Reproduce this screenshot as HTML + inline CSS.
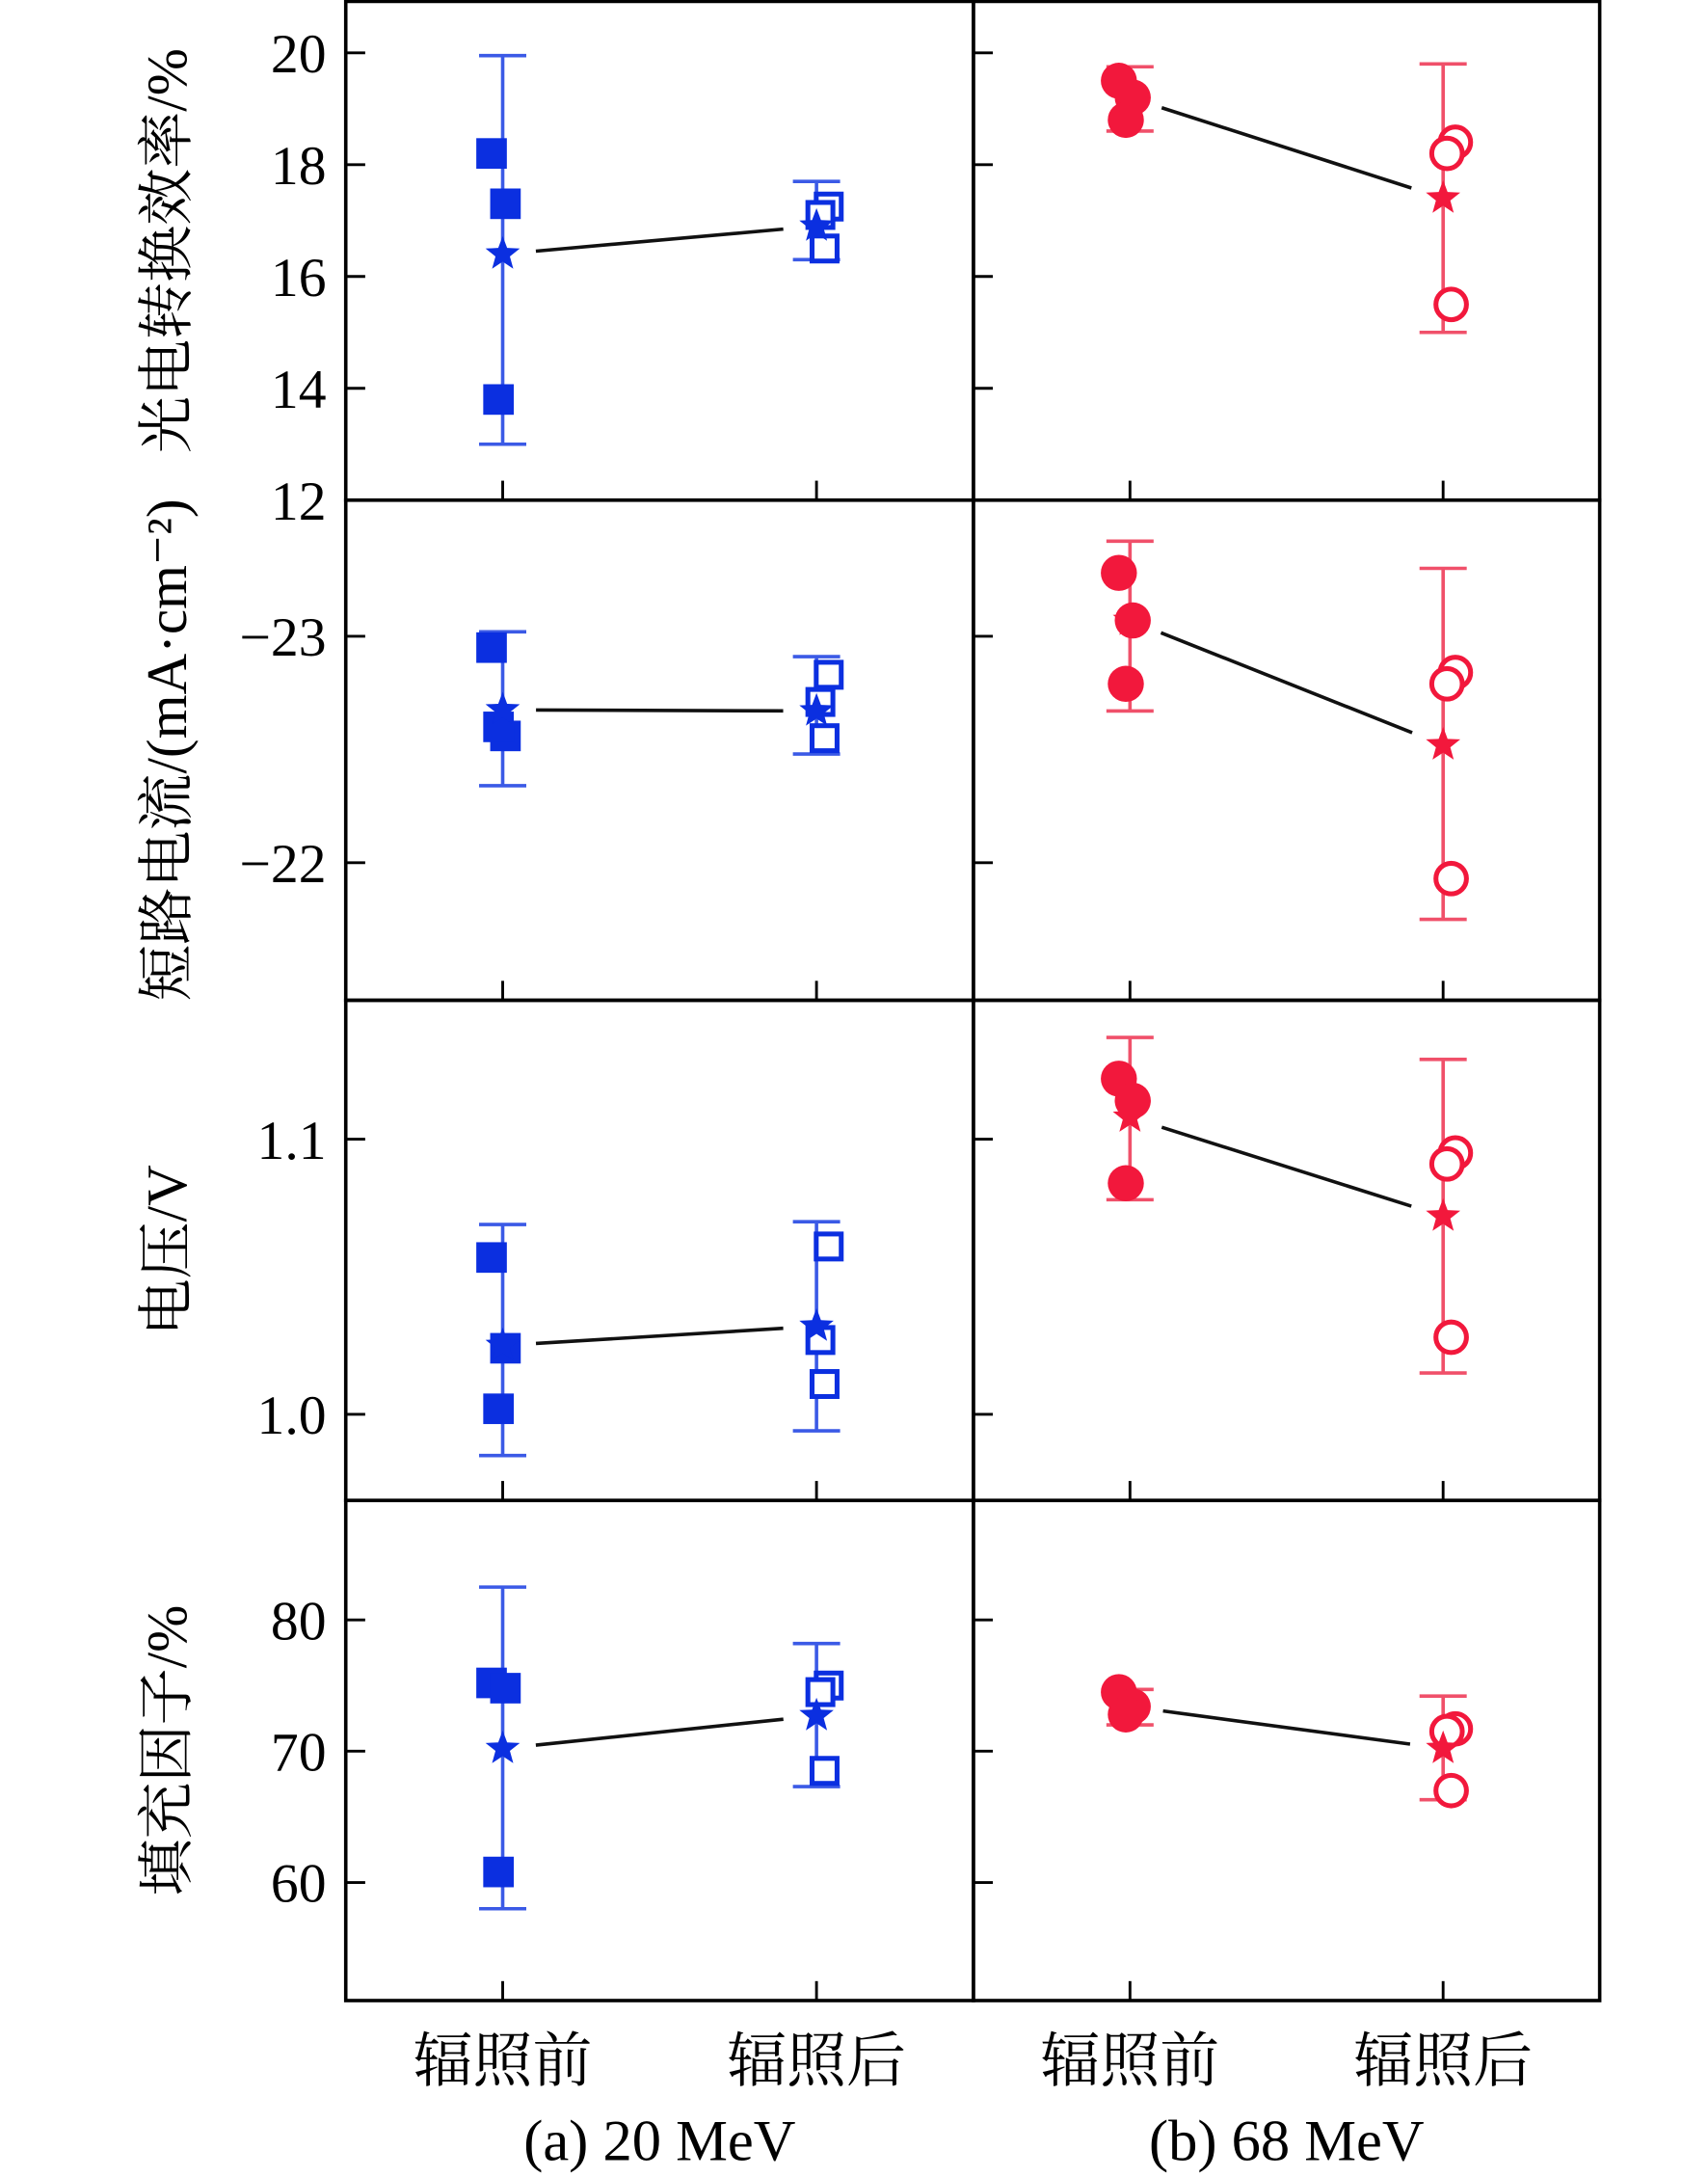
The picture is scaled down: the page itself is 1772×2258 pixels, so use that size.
<!DOCTYPE html>
<html><head><meta charset="utf-8"><style>
html,body{margin:0;padding:0;background:#fff}
svg{display:block}
text{font-family:"Liberation Serif","Noto Serif CJK SC","Noto Sans CJK SC",serif;fill:#000}
</style></head><body>
<svg id="chart" xmlns="http://www.w3.org/2000/svg" width="1772" height="2258" viewBox="0 0 1230 1567" preserveAspectRatio="none"></svg>
<script>
// ---- data ----
const categories = ["辐照前", "辐照后"];
const panelTitles = ["(a) 20 MeV", "(b) 68 MeV"];
const rowTitles = ["光电转换效率/%", "短路电流/(mA·cm⁻²)", "电压/V", "填充因子/%"];
const tickLabels0 = ["20","18","16","14","12"];
const tickValues0 = [20,18,16,14,12];
const tickLabels1 = ["−23","−22"];
const tickValues1 = [-23,-22];
const tickLabels2 = ["1.1","1.0"];
const tickValues2 = [1.1,1.0];
const tickLabels3 = ["80","70","60"];
const tickValues3 = [80,70,60];
const pce20 = [[18.2,17.3,13.8],[17.25,17.1,16.5]];
const pce20Mean = [16.4,16.9];
const pce20Err = [[13.0,19.95],[16.3,17.7]];
const pce68 = [[19.5,19.2,18.8],[18.4,18.2,15.5]];
const pce68Mean = [19.2,17.4];
const pce68Err = [[18.6,19.75],[15.0,19.8]];
const jsc20 = [[-22.95,-22.56,-22.6],[-22.83,-22.71,-22.55]];
const jsc20Mean = [-22.675,-22.67];
const jsc20Err = [[-23.02,-22.34],[-22.91,-22.48]];
const jsc68 = [[-23.28,-23.07,-22.79],[-22.84,-22.79,-21.93]];
const jsc68Mean = [-23.07,-22.52];
const jsc68Err = [[-23.42,-22.67],[-23.3,-21.75]];
const voc20 = [[1.057,1.024,1.002],[1.061,1.027,1.011]];
const voc20Mean = [1.025,1.032];
const voc20Err = [[0.985,1.069],[0.994,1.07]];
const voc68 = [[1.122,1.114,1.084],[1.095,1.091,1.028]];
const voc68Mean = [1.108,1.072];
const voc68Err = [[1.078,1.137],[1.015,1.129]];
const ff20 = [[75.2,74.8,60.8],[75.0,74.5,68.5]];
const ff20Mean = [70.2,72.7];
const ff20Err = [[58.0,82.5],[67.3,78.2]];
const ff68 = [[74.5,73.4,72.8],[71.7,71.5,67.0]];
const ff68Mean = [73.4,70.2];
const ff68Err = [[72.0,74.7],[66.3,74.2]];

const NS="http://www.w3.org/2000/svg";
const svg=document.getElementById('chart');
function mk(tag,attrs,parent){const e=document.createElementNS(NS,tag);for(const k in attrs)e.setAttribute(k,attrs[k]);(parent||svg).appendChild(e);return e;}

const panelX=[[249,701],[701,1152]];
const rowY=[[1,360],[360,720],[720,1080],[1080,1440]];
const rowMap=[[20,38,12,360],[-23,458,-22,621],[1.1,820,1.0,1018],[80,1166,60,1355]];
function yScale(r,v){const m=rowMap[r];return m[1]+(v-m[0])*(m[3]-m[1])/(m[2]-m[0]);}
function xScale(p,c){const x0=panelX[p][0],w=panelX[p][1]-x0;return x0+w*(0.25+0.5*c);}
const jitter=[-8,2,-3];

const rows=[
 [[pce20,pce20Mean,pce20Err],[pce68,pce68Mean,pce68Err]],
 [[jsc20,jsc20Mean,jsc20Err],[jsc68,jsc68Mean,jsc68Err]],
 [[voc20,voc20Mean,voc20Err],[voc68,voc68Mean,voc68Err]],
 [[ff20,ff20Mean,ff20Err],[ff68,ff68Mean,ff68Err]]];
const ticks=[[tickValues0,tickLabels0],[tickValues1,tickLabels1],[tickValues2,tickLabels2],[tickValues3,tickLabels3]];
const colors=["#0b2fe0","#f2183c"];
const errColors=["#3b5ae6","#f0506a"];

function starPath(cx,cy,R){let d="";const r=R*0.42;for(let i=0;i<10;i++){const a=-Math.PI/2+i*Math.PI/5;const rr=i%2?r:R;d+=(i?"L":"M")+(cx+rr*Math.cos(a)).toFixed(2)+","+(cy+rr*Math.sin(a)).toFixed(2);}return d+"Z";}

for(let r=0;r<4;r++){
 for(let p=0;p<2;p++){
  const g=mk('g',{});
  
  
  const [pts,mean,err]=rows[r][p];
  const col=colors[p];
  ticks[r][0].forEach((v,i)=>{
    const y=yScale(r,v);
    const t=mk('line',{x1:panelX[p][0],x2:panelX[p][0]+14,y1:y,y2:y,stroke:'#000','stroke-width':2},g);
    
    
    if(p===0){
      const tx=mk('text',{x:panelX[0][0]-14,y:y+14,'text-anchor':'end','font-size':40},g);
      
      
      tx.textContent=ticks[r][1][i];
    }
  });
  categories.forEach((c,ci)=>{
    const x=xScale(p,ci);
    const t=mk('line',{x1:x,x2:x,y1:rowY[r][1],y2:rowY[r][1]-14,stroke:'#000','stroke-width':2},g);
    
    
  });
  const xa=xScale(p,0),xb=xScale(p,1),ya=yScale(r,mean[0]),yb=yScale(r,mean[1]);
  const L=Math.hypot(xb-xa,yb-ya),ux=(xb-xa)/L,uy=(yb-ya)/L,gap=24;
  const ln=mk('line',{x1:xa+ux*gap,y1:ya+uy*gap,x2:xb-ux*gap,y2:yb-uy*gap,stroke:'#111','stroke-width':2.5},g);
  
  
  for(let ci=0;ci<2;ci++){
   const x=xScale(p,ci);
   const y1=yScale(r,err[ci][0]),y2=yScale(r,err[ci][1]);
   const eb=mk('path',{d:`M${x},${y1}V${y2}M${x-17},${y1}H${x+17}M${x-17},${y2}H${x+17}`,stroke:errColors[p],'stroke-width':2.5,fill:'none'},g);
   
   
   pts[ci].forEach((v,k)=>{
    const px=x+jitter[k]*(ci?-0.6:1)+(ci?4:0), py=yScale(r,v);
    const filled=ci===0;
    let m;
    if(p===0){
     const s=filled?22:18;
     m=mk('rect',{x:px-s/2,y:py-s/2,width:s,height:s,fill:filled?col:'#fff',stroke:col,'stroke-width':filled?0:3.5},g);
    }else{
     m=mk('circle',{cx:px,cy:py,r:filled?13:11,fill:filled?col:'#fff',stroke:col,'stroke-width':filled?0:3.5},g);
    }
    
    
   });
   const st=mk('path',{d:starPath(x,yScale(r,mean[ci]),13),fill:col},g);
   
   
  }
  const fr=mk('rect',{x:panelX[p][0],y:rowY[r][0],width:panelX[p][1]-panelX[p][0],height:rowY[r][1]-rowY[r][0],fill:'none',stroke:'#000','stroke-width':2.5},g);
  
  
 }
 const cy=(rowY[r][0]+rowY[r][1])/2;
 const yt=mk('text',{x:0,y:0,transform:`translate(134,${cy}) rotate(-90)`,'text-anchor':'middle','font-size':41});
 
 
 yt.textContent=rowTitles[r];
}
for(let p=0;p<2;p++){
 categories.forEach((c,ci)=>{
  const t=mk('text',{x:xScale(p,ci),y:1498,'text-anchor':'middle','font-size':43});
  
  
  t.textContent=c;
 });
 const t=mk('text',{x:(panelX[p][0]+panelX[p][1])/2,y:1555,'text-anchor':'middle','font-size':42});
 
 
 t.textContent=panelTitles[p];
}
</script>
</body></html>
